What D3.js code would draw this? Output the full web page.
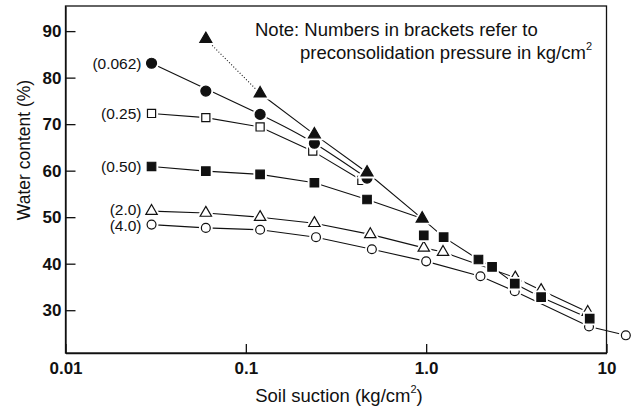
<!DOCTYPE html>
<html>
<head>
<meta charset="utf-8">
<style>
  body { margin: 0; background: #fff; }
  text { font-family: "Liberation Sans", Arial, sans-serif; fill: #111; }
</style>
</head>
<body>
<div id="container"></div>
<script src="https://cdn.jsdelivr.net/npm/d3@7"></script>
<script>

// tick labels
const xTicks = [0.01, 0.1, 1, 10];
const xTickLabels = ["0.01", "0.1", "1.0", "10"];
const yTicks = [30, 40, 50, 60, 70, 80, 90];

// filled triangles (no bracket label)
const ncSuction = [0.06, 0.12, 0.24, 0.47, 0.95];
const ncWater   = [88.3, 76.6, 67.8, 59.6, 49.7];

// (0.062) filled circles
const p062Suction = [0.03, 0.06, 0.12, 0.24, 0.47];
const p062Water   = [83.1, 77.1, 72.1, 65.9, 58.4];

// (0.25) open squares
const p025Suction = [0.03, 0.06, 0.12, 0.235, 0.44];
const p025Water   = [72.3, 71.4, 69.4, 64.2, 57.9];

// (0.50) filled squares
const p050Suction = [0.03, 0.06, 0.12, 0.24, 0.47, 0.97, 1.25, 1.95, 2.32, 3.1, 4.34, 8.07];
const p050Water   = [60.9, 59.9, 59.2, 57.4, 53.8, 46.1, 45.7, 40.9, 39.3, 35.7, 32.8, 28.2];

// (2.0) open triangles
const p20Suction = [0.03, 0.06, 0.12, 0.24, 0.49, 0.97, 1.24, 3.12, 4.34, 7.87];
const p20Water   = [51.3, 50.9, 50.0, 48.7, 46.3, 43.4, 42.5, 37.0, 34.3, 29.6];

// (4.0) open circles
const p40Suction = [0.03, 0.06, 0.12, 0.245, 0.5, 1.0, 2.0, 3.1, 8.0, 12.8];
const p40Water   = [48.4, 47.7, 47.3, 45.7, 43.1, 40.5, 37.3, 34.1, 26.5, 24.6];

const pts = (xs, ys) => xs.map((s, i) => ({ s: s, w: ys[i] }));

const width = 633, height = 411;
const x = d3.scaleLog().domain([0.01, 10]).range([65.5, 606.5]);
const y = d3.scaleLinear().domain([20.8, 95.4]).range([353, 6]);

const svg = d3.create("svg").attr("width", width).attr("height", height);

// frame
svg.append("rect")
  .attr("x", x.range()[0]).attr("y", y.range()[1])
  .attr("width", x.range()[1] - x.range()[0])
  .attr("height", y.range()[0] - y.range()[1])
  .attr("fill", "none").attr("stroke", "#111").attr("stroke-width", 1.3);

// axes, ticks pointing inward
const xAxis = svg.append("g")
  .attr("transform", `translate(0,${y.range()[0]})`)
  .call(d3.axisBottom(x).tickValues(xTicks)
    .tickFormat((d, i) => xTickLabels[i])
    .tickSizeInner(-9).tickSizeOuter(0).tickPadding(8.5));

const yAxis = svg.append("g")
  .attr("transform", `translate(${x.range()[0]},0)`)
  .call(d3.axisLeft(y).tickValues(yTicks)
    .tickSizeInner(-10).tickSizeOuter(0).tickPadding(4));

[xAxis, yAxis].forEach(a => {
  a.selectAll("path,line").attr("stroke", "#111").attr("stroke-width", 1.3);
  a.selectAll("text").attr("font-size", 17).attr("font-weight", "bold")
    .attr("font-family", '"Liberation Sans", Arial, sans-serif').attr("fill", "#111");
});

// lines
const line = d3.line().x(d => x(d.s)).y(d => y(d.w));
const nc = pts(ncSuction, ncWater);
const p062 = pts(p062Suction, p062Water);
const p025 = pts(p025Suction, p025Water);
const p050 = pts(p050Suction, p050Water);
const p20 = pts(p20Suction, p20Water);
const p40 = pts(p40Suction, p40Water);

const lines = svg.append("g").attr("fill", "none").attr("stroke", "#111").attr("stroke-width", 1.1);

// dotted start of the triangle curve, then solid, merging into the filled squares beyond 1
lines.append("path").attr("d", line(nc.slice(0, 2))).attr("stroke-dasharray", "1,2");
lines.append("path").attr("d", line(nc.slice(1).concat(p050.filter(d => d.s > 1))));
// fitted curve for (0.062), skipping the point at 0.06
lines.append("path").attr("d", line.curve(d3.curveNatural)(p062.filter(d => d.s !== 0.06)));
line.curve(d3.curveLinear);
lines.append("path").attr("d", line(p025));
lines.append("path").attr("d", line(p050.filter(d => d.s < 0.5).concat(nc.slice(-1))));
lines.append("path").attr("d", line(p20));
lines.append("path").attr("d", line(p40));

// markers
const series = [
  { data: p40,  type: d3.symbolCircle,   size: 62, fill: "#fff", label: "(4.0)",   nudge: 1 },
  { data: p20,  type: d3.symbolTriangle, size: 56, fill: "#fff", label: "(2.0)",   nudge: -2 },
  { data: p050, type: d3.symbolSquare,   size: 72, fill: "#111", label: "(0.50)",  nudge: 0 },
  { data: p025, type: d3.symbolSquare,   size: 66, fill: "#fff", label: "(0.25)",  nudge: 0 },
  { data: p062, type: d3.symbolCircle,   size: 78, fill: "#111", label: "(0.062)", nudge: 0 },
  { data: nc,   type: d3.symbolTriangle, size: 62, fill: "#111", label: null }
];

series.forEach(sr => {
  const g = svg.append("g");
  const sym = d3.symbol().type(sr.type).size(sr.size);
  g.selectAll(".halo").data(sr.data).join("path")
    .attr("transform", d => `translate(${x(d.s)},${y(d.w)})`)
    .attr("d", sym).attr("fill", "#fff").attr("stroke", "#fff").attr("stroke-width", 5);
  g.selectAll(".mk").data(sr.data).join("path")
    .attr("transform", d => `translate(${x(d.s)},${y(d.w)})`)
    .attr("d", sym).attr("fill", sr.fill).attr("stroke", "#111").attr("stroke-width", 1.2);
  if (sr.label) {
    svg.append("text")
      .attr("x", x(sr.data[0].s) - 10).attr("y", y(sr.data[0].w) + sr.nudge)
      .attr("dy", "0.36em").attr("text-anchor", "end")
      .attr("font-size", 15.5).text(sr.label);
  }
});

// note
const note = svg.append("g").attr("font-size", 18.5);
note.append("text").attr("x", 255).attr("y", 36).text("Note: Numbers in brackets refer to");
const n2 = note.append("text").attr("x", 300).attr("y", 59);
n2.append("tspan").text("preconsolidation pressure in kg/cm");
n2.append("tspan").attr("font-size", 11).attr("dy", -9).text("2");

// axis titles
const xl = svg.append("text").attr("x", 339).attr("y", 402)
  .attr("text-anchor", "middle").attr("font-size", 18.5);
xl.append("tspan").text("Soil suction (kg/cm");
xl.append("tspan").attr("font-size", 11).attr("dy", -9).text("2");
xl.append("tspan").attr("dy", 9).text(")");

svg.append("text")
  .attr("transform", "translate(30,150) rotate(-90)")
  .attr("text-anchor", "middle").attr("font-size", 17.5)
  .text("Water content (%)");

container.append(svg.node());
</script>
</body>
</html>
